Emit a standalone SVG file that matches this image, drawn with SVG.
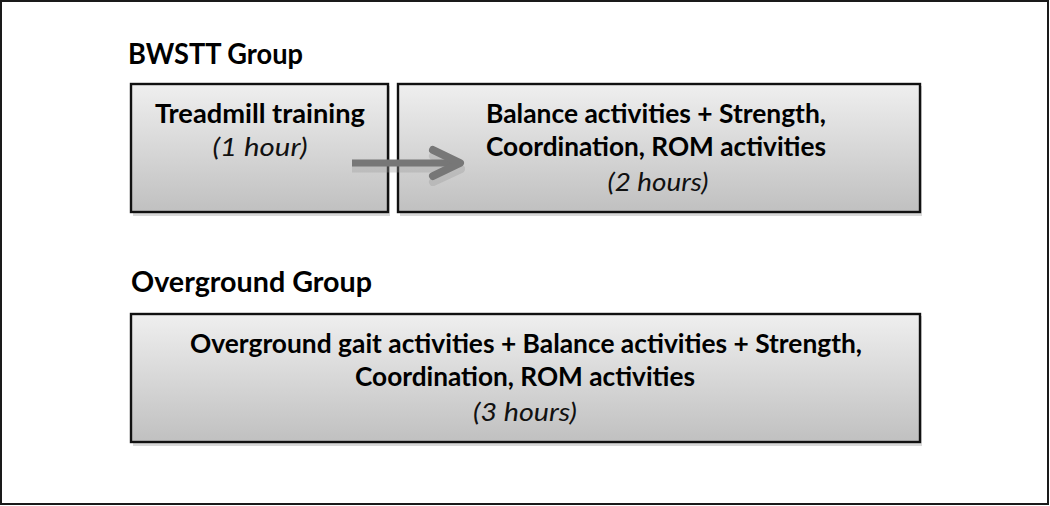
<svg xmlns="http://www.w3.org/2000/svg" width="1050" height="506" viewBox="0 0 1050 506">
<defs>
<linearGradient id="g" x1="0" y1="0" x2="0" y2="1">
<stop offset="0" stop-color="#efefef"/>
<stop offset="1" stop-color="#c0c0c0"/>
</linearGradient>
<style>
.box{fill:url(#g);stroke:#111111;stroke-width:2.4}
.sh{fill:#d9d9d9}
.b{font-family:Lato,"Open Sans","Liberation Sans",sans-serif;font-weight:bold;font-size:26px;fill:#000000}
.h{font-family:Lato,"Open Sans","Liberation Sans",sans-serif;font-weight:bold;font-size:28px;fill:#000000}
.i{font-family:Lato,"Open Sans","Liberation Sans",sans-serif;font-style:italic;font-size:26px;fill:#111111}
</style>
</defs>
<rect x="0" y="0" width="1050" height="506" fill="#ffffff"/>
<rect x="1" y="1" width="1047" height="503" fill="none" stroke="#1a1a1a" stroke-width="2"/>
<text class="h" x="128" y="64" textLength="175" lengthAdjust="spacingAndGlyphs">BWSTT Group</text>
<text class="h" x="131" y="292" textLength="241" lengthAdjust="spacingAndGlyphs">Overground Group</text>
<g id="node-treadmill">
<rect class="sh" x="133" y="86" width="257" height="130"/>
<rect class="box" x="131" y="84" width="257" height="128"/>
<text class="b" x="260" y="123" text-anchor="middle" textLength="210" lengthAdjust="spacingAndGlyphs">Treadmill training</text>
<text class="i" x="260" y="156" text-anchor="middle" textLength="95" lengthAdjust="spacingAndGlyphs">(1 hour)</text>
</g>
<g id="node-balance">
<rect class="sh" x="400" y="86" width="522" height="130"/>
<rect class="box" x="398" y="84" width="522" height="128"/>
<text class="b" x="656" y="123" text-anchor="middle" textLength="340" lengthAdjust="spacingAndGlyphs">Balance activities + Strength,</text>
<text class="b" x="656" y="156" text-anchor="middle" textLength="340" lengthAdjust="spacingAndGlyphs">Coordination, ROM activities</text>
<text class="i" x="658" y="191" text-anchor="middle" textLength="101" lengthAdjust="spacingAndGlyphs">(2 hours)</text>
</g>
<g id="node-overground">
<rect class="sh" x="133" y="316" width="789" height="130"/>
<rect class="box" x="131" y="314" width="789" height="128"/>
<text class="b" x="526" y="353" text-anchor="middle" textLength="672" lengthAdjust="spacingAndGlyphs">Overground gait activities + Balance activities + Strength,</text>
<text class="b" x="525" y="386" text-anchor="middle" textLength="340" lengthAdjust="spacingAndGlyphs">Coordination, ROM activities</text>
<text class="i" x="525" y="421" text-anchor="middle" textLength="104" lengthAdjust="spacingAndGlyphs">(3 hours)</text>
</g>
<g id="connectors">
<g opacity="0.35" fill="none" stroke="#9a9a9a" stroke-linecap="round" stroke-linejoin="round">
<line x1="352" y1="169" x2="458" y2="169" stroke-width="7" stroke-linecap="butt"/>
<polyline points="433,156 461,169 433,182" stroke-width="8"/>
</g>
<g fill="none" stroke="#777777" stroke-linecap="round" stroke-linejoin="round">
<line x1="352" y1="163" x2="458" y2="163" stroke-width="7" stroke-linecap="butt"/>
<polyline points="433,150 460,163 433,176" stroke-width="8"/>
</g>
</g>
</svg>
